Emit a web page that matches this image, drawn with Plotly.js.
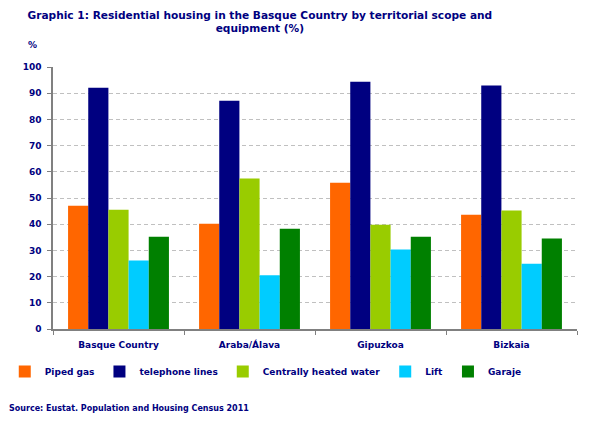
<!DOCTYPE html>
<html>
<head>
<meta charset="utf-8">
<script src="https://cdn.plot.ly/plotly-3.0.1.min.js"></script>
<style>
  html, body { margin: 0; padding: 0; background: #ffffff; }
  #chart { width: 596px; height: 425px; }
</style>
</head>
<body>
<div id="chart"></div>
<script>
// territorial scopes
const scopes = ['Basque Country', 'Araba/Álava', 'Gipuzkoa', 'Bizkaia'];

// % of residential housing with each equipment
const pipedGas = [47.0, 40.2, 55.8, 43.6];
const telephoneLines = [92.1, 87.1, 94.4, 92.9];
const heatedWater = [45.5, 57.4, 39.8, 45.2];
const lift = [26.1, 20.5, 30.3, 24.9];
const garaje = [35.2, 38.3, 35.2, 34.5];

const navy = '#000080';
const font = 'DejaVu Sans, Verdana, sans-serif';

function barTrace(name, values, color) {
    return { x: scopes, y: values, name: name, type: 'bar',
             marker: { color: color, line: { width: 0 } } };
}

const traces = [
    barTrace('Piped gas', pipedGas, '#ff6600'),
    barTrace('telephone lines', telephoneLines, '#000080'),
    barTrace('Centrally heated water', heatedWater, '#99cc00'),
    barTrace('Lift', lift, '#00ccff'),
    barTrace('Garaje', garaje, '#008000')
];

const layout = {
    width: 596, height: 425,
    paper_bgcolor: '#ffffff', plot_bgcolor: '#ffffff',
    margin: { l: 53, r: 19, t: 67, b: 96 },
    barmode: 'group', bargap: 0.23, bargroupgap: 0,
    font: { family: font, color: navy, size: 9 },
    title: {
        text: '<b>Graphic 1: Residential housing in the Basque Country by territorial scope and<br>equipment (%)</b>',
        font: { family: font, size: 10.6, color: navy },
        xref: 'container', x: 0.436, xanchor: 'center',
        yref: 'container', y: 0.956, yanchor: 'top'
    },
    xaxis: {
        type: 'category', tickson: 'boundaries',
        ticks: 'outside', ticklen: 4, tickcolor: '#808080',
        showline: true, linecolor: '#808080', linewidth: 1.5,
        showgrid: false, ticklabelstandoff: 6,
        tickfont: { family: font, size: 9, color: navy, weight: 'bold' }
    },
    yaxis: {
        range: [0, 100], dtick: 10,
        ticks: 'outside', ticklen: 4, tickcolor: '#808080',
        showline: true, linecolor: '#808080', linewidth: 1.5,
        gridcolor: '#c0c0c0', griddash: '4px,3px', zeroline: false,
        ticklabelstandoff: 4,
        tickfont: { family: font, size: 9, color: navy, weight: 'bold' }
    },
    showlegend: true,
    legend: {
        orientation: 'h',
        xref: 'container', x: 0.008, xanchor: 'left',
        yref: 'container', y: 0.16, yanchor: 'top',
        font: { family: font, size: 9, color: navy, weight: 'bold' },
        itemwidth: 30, traceorder: 'normal'
    },
    annotations: [
        { text: '<b>%</b>', xref: 'paper', yref: 'paper', x: -0.052, y: 1.083,
          xanchor: 'left', yanchor: 'middle', showarrow: false,
          font: { family: font, size: 9, color: navy } },
        { text: '<b>Source: Eustat. Population and Housing Census 2011</b>',
          xref: 'paper', yref: 'paper', x: -0.088, y: -0.305,
          xanchor: 'left', yanchor: 'middle', showarrow: false,
          font: { family: font, size: 8, color: navy } }
    ]
};

Plotly.newPlot('chart', traces, layout, { displayModeBar: false, responsive: false });
</script>
</body>
</html>
